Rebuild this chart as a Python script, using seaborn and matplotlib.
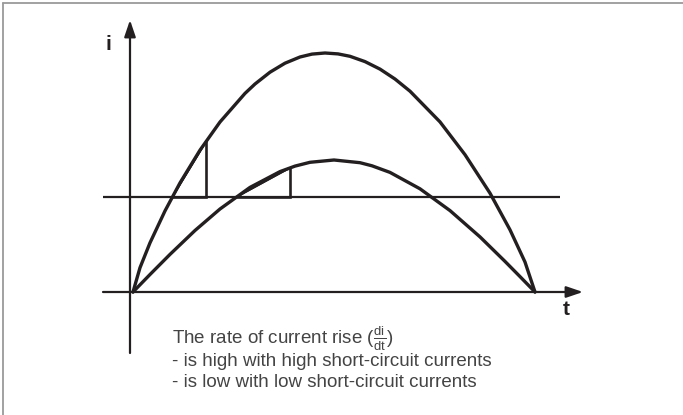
import numpy as np
import matplotlib
matplotlib.use("Agg")
import matplotlib.pyplot as plt
from matplotlib.lines import Line2D
import seaborn as sns

# ---- data (time in ms, current in arbitrary units) ----
t_big = [0, 0.174, 0.423, 0.796, 1.169, 1.667, 2.164, 2.786, 3.035, 3.408, 3.781,
         4.154, 4.453, 4.776, 5.100, 5.398, 5.771, 6.144, 6.517, 6.891, 7.637,
         8.259, 8.881, 9.378, 9.751, 10.0]
i_big = [0, 0.243, 0.492, 0.811, 1.091, 1.419, 1.700, 1.986, 2.080, 2.198, 2.288,
         2.350, 2.379, 2.390, 2.381, 2.357, 2.304, 2.229, 2.130, 2.008, 1.701,
         1.373, 0.988, 0.622, 0.300, 0]

t_small = [0, 0.423, 0.920, 1.542, 2.164, 2.910, 3.657, 4.030, 4.403, 5.0, 5.647,
           5.945, 6.393, 7.139, 7.886, 8.632, 9.254, 9.627, 10.0]
i_small = [0, 0.175, 0.376, 0.615, 0.830, 1.046, 1.204, 1.259, 1.297, 1.32, 1.293,
           1.262, 1.196, 1.032, 0.814, 0.551, 0.306, 0.154, 0]

i_level = 0.95          # horizontal reference level
t_tri = [1.82, 3.905]   # time of the vertical leg of each slope triangle

title_line = r"The rate of current rise ($\frac{\mathrm{di}}{\mathrm{dt}}$)"
bullets = ["- is high with high short-circuit currents",
           "- is low with low short-circuit currents"]

# ---- figure ----
sns.set_theme(style="white")
plt.rcParams["font.family"] = ["Liberation Sans", "DejaVu Sans"]
plt.rcParams["mathtext.fontset"] = "custom"
plt.rcParams["mathtext.rm"] = "Liberation Sans"
plt.rcParams["mathtext.it"] = "Liberation Sans"

W, H = 683, 415
fig = plt.figure(figsize=(W / 100, H / 100), dpi=100)
ax = fig.add_axes([0, 0, 1, 1])
sx, sy = 40.2, 100.0   # px per data unit
ox, oy = 133, 292      # origin in px
ax.set_xlim(-ox / sx, (W - ox) / sx)
ax.set_ylim(-(H - oy) / sy, oy / sy)
ax.axis("off")

ink = "#231f20"

def px(x, y):
    return ((x - ox) / sx, (oy - y) / sy)

# border (top and left)
fig.add_artist(Line2D([3 / W, 3 / W], [0, 1 - 3 / H], transform=fig.transFigure,
                      color="#9a9a9a", lw=1.3))
fig.add_artist(Line2D([3 / W, 1], [1 - 3 / H, 1 - 3 / H], transform=fig.transFigure,
                      color="#9a9a9a", lw=1.3))

# axes with arrows
arrow = dict(arrowstyle="-|>,head_length=0.5,head_width=0.17", lw=1.6, color=ink,
             shrinkA=0, shrinkB=0, mutation_scale=20)
ax.annotate("", xy=px(130, 20), xytext=px(130, 353), arrowprops=arrow)
ax.annotate("", xy=px(583, 292), xytext=px(103, 292), arrowprops=arrow)

# level line
x0, _ = px(103, 0)
x1, _ = px(560, 0)
ax.plot([x0, x1], [i_level, i_level], color=ink, lw=1.6, solid_capstyle="butt")

# curves
sns.lineplot(x=t_big, y=i_big, sort=False, color=ink, lw=2.4, ax=ax, estimator=None)
sns.lineplot(x=t_small, y=i_small, sort=False, color=ink, lw=2.4, ax=ax, estimator=None)

# slope triangles
for (tc, ic), tv in zip([(t_big, i_big), (t_small, i_small)], t_tri):
    pk = int(np.argmax(ic))
    tr = np.array(tc[:pk + 1]); ir = np.array(ic[:pk + 1])
    ta = float(np.interp(i_level, ir, tr))
    iv = float(np.interp(tv, tr, ir))
    ax.plot([ta, tv, tv], [i_level, i_level, iv], color=ink, lw=1.9,
            solid_joinstyle="miter")
    mask = (tr > ta) & (tr < tv)
    poly_t = [ta] + list(tr[mask]) + [tv]
    poly_i = [i_level] + list(ir[mask]) + [iv]
    ax.fill(poly_t, poly_i, color=ink, lw=1.2, ec=ink)
    ax.plot([ta, tv], [i_level, iv], color=ink, lw=1.2)

# axis labels
ax.text(*px(108, 44), "i", fontsize=15, fontweight="bold", color=ink,
        ha="center", va="center")
ax.text(*px(566, 309), "t", fontsize=15, fontweight="bold", color=ink,
        ha="center", va="center")

# explanation text
txt = "#444444"
ax.text(*px(172, 339), title_line, fontsize=13.5, color=txt, ha="left", va="center")
for k, b in enumerate(bullets):
    ax.text(*px(172, 361 + 21 * k), b, fontsize=13.5, color=txt, ha="left", va="center")

fig.savefig("out.png", dpi=100)
